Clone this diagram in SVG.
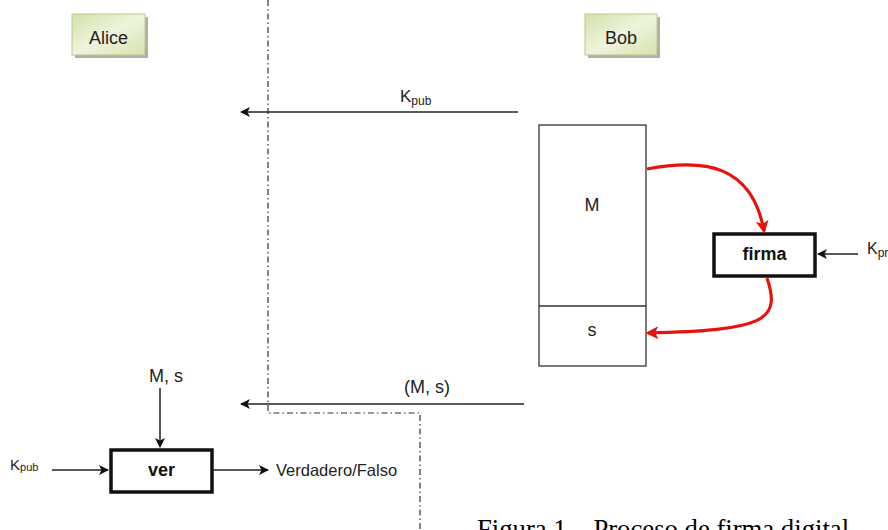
<svg xmlns="http://www.w3.org/2000/svg" width="888" height="530" viewBox="0 0 888 530">
<style>
text{font-family:"Liberation Sans",Arial,sans-serif;fill:#222}
.lbl{font-size:18px}
.bold{font-size:18px;font-weight:bold;fill:#111}
.ln{stroke:#222;stroke-width:1.5;fill:none}
.dd{stroke:#333;stroke-width:1.2;fill:none;stroke-dasharray:6 3 1.5 3}
.red{stroke:#e8120c;stroke-width:3.2;fill:none}
.actor{fill:url(#g);stroke:#b7c98e;stroke-width:1}
.shadow{fill:#b0b0a8}
.box{fill:#fff;stroke:#111;stroke-width:3.5}
</style>
<defs>
<linearGradient id="g" x1="0" y1="0" x2="1" y2="1">
<stop offset="0" stop-color="#d3e1a9"/>
<stop offset="0.5" stop-color="#eef4dd"/>
<stop offset="1" stop-color="#d6e2ae"/>
</linearGradient>
<marker id="ah" viewBox="0 0 10 10" refX="9" refY="5" markerWidth="10" markerHeight="10" markerUnits="userSpaceOnUse" orient="auto">
<path d="M0,0 L10,5 L0,10 L2.5,5 Z" fill="#111"/>
</marker>
<marker id="ahr" viewBox="0 0 10 10" refX="8" refY="5" markerWidth="13" markerHeight="13" markerUnits="userSpaceOnUse" orient="auto">
<path d="M0,0 L10,5 L0,10 L2.5,5 Z" fill="#e8120c"/>
</marker>
</defs>

<g id="alice">
<rect class="shadow" x="75" y="17" width="73" height="41"/>
<rect class="actor" x="72" y="14" width="73" height="41"/>
<text class="lbl" x="108.5" y="44" text-anchor="middle">Alice</text>
</g>

<g id="bob">
<rect class="shadow" x="588" y="17" width="72" height="41"/>
<rect class="actor" x="585" y="14" width="72" height="41"/>
<text class="lbl" x="621" y="44" text-anchor="middle">Bob</text>
</g>

<g id="boundary">
<path class="dd" d="M268,0 V413 H420 V530"/>
</g>

<g id="message">
<rect x="539" y="125" width="107" height="241" fill="#fff" stroke="#333" stroke-width="1.3"/>
<line x1="539" y1="306" x2="646" y2="306" stroke="#333" stroke-width="1.3"/>
<text class="lbl" x="592" y="211" text-anchor="middle">M</text>
<text class="lbl" x="592" y="336" text-anchor="middle">s</text>
</g>

<g id="firma">
<rect class="box" x="714" y="234" width="101" height="42"/>
<text class="bold" x="764.5" y="260" text-anchor="middle">firma</text>
</g>

<g id="ver">
<rect class="box" x="111" y="450" width="101" height="42"/>
<text class="bold" x="161.5" y="476" text-anchor="middle">ver</text>
</g>

<g id="labels">
<text x="400" y="102" font-size="17">K<tspan font-size="12" dy="3">pub</tspan></text>
<text class="lbl" x="427" y="393" text-anchor="middle">(M, s)</text>
<text class="lbl" x="166" y="382" text-anchor="middle">M, s</text>
<text x="10" y="470" font-size="15">K<tspan font-size="11" dy="1">pub</tspan></text>
<text x="867" y="254" font-size="16">K<tspan font-size="12" dy="3">priv</tspan></text>
<text x="276" y="476" font-size="16.5">Verdadero/Falso</text>
</g>

<g id="connectors">
<line class="ln" x1="518" y1="112" x2="241" y2="112" stroke-width="2" marker-end="url(#ah)"/>
<line class="ln" x1="524" y1="404" x2="241" y2="404" stroke-width="2" marker-end="url(#ah)"/>
<line class="ln" x1="858" y1="254" x2="818" y2="254" marker-end="url(#ah)"/>
<line class="ln" x1="160" y1="388" x2="160" y2="447" marker-end="url(#ah)"/>
<line class="ln" x1="52" y1="470" x2="108" y2="470" marker-end="url(#ah)"/>
<line class="ln" x1="213" y1="470" x2="268" y2="470" marker-end="url(#ah)"/>
<path class="red" d="M647,169 C705,158 752,165 764,231" marker-end="url(#ahr)"/>
<path class="red" d="M767,278 C782,322 762,330 648,333" marker-end="url(#ahr)"/>
</g>

<g id="caption">
<text x="477" y="538" font-size="26.7" style="font-family:'Liberation Serif','Times New Roman',serif;fill:#000">Figura 1 – Proceso de firma digital</text>
</g>
</svg>
